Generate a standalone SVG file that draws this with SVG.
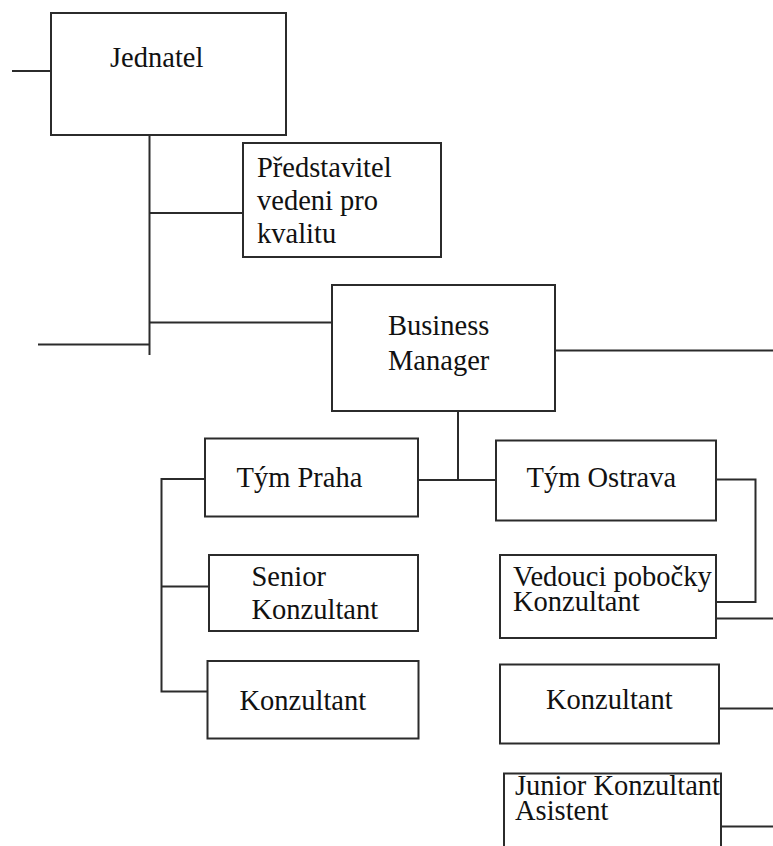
<svg xmlns="http://www.w3.org/2000/svg" width="773" height="846" viewBox="0 0 773 846">
<style>
.box{fill:#fff;stroke:#2b2b2b;stroke-width:2}
.ln{fill:none;stroke:#2b2b2b;stroke-width:2}
</style>
<rect width="773" height="846" fill="#fff"/>
<g id="connectors">
<line class="ln" x1="12" y1="71" x2="51" y2="71"/>
<line class="ln" x1="149.5" y1="133" x2="149.5" y2="355"/>
<line class="ln" x1="149.5" y1="213" x2="243" y2="213"/>
<line class="ln" x1="149.5" y1="322.5" x2="332" y2="322.5"/>
<line class="ln" x1="38" y1="344.5" x2="149.5" y2="344.5"/>
<line class="ln" x1="555" y1="350.5" x2="773" y2="350.5"/>
<line class="ln" x1="458" y1="411" x2="458" y2="480"/>
<line class="ln" x1="418" y1="480" x2="496" y2="480"/>
<polyline class="ln" points="205,479 161.5,479 161.5,691.5 208,691.5"/>
<line class="ln" x1="161.5" y1="586.5" x2="209" y2="586.5"/>
<polyline class="ln" points="716,479.5 755.5,479.5 755.5,602 716,602"/>
<line class="ln" x1="716" y1="618.5" x2="773" y2="618.5"/>
<line class="ln" x1="719" y1="708.5" x2="773" y2="708.5"/>
<line class="ln" x1="721" y1="826.5" x2="773" y2="826.5"/>
</g>
<g font-family="Liberation Serif" font-size="28.5" fill="#111">
<g id="jednatel">
<rect class="box" x="51" y="13" width="235" height="122"/>
<text x="110" y="67">Jednatel</text>
</g>
<g id="predstavitel">
<rect class="box" x="243" y="143" width="198" height="114"/>
<text x="257" y="177">Představitel</text>
<text x="257" y="210">vedeni pro</text>
<text x="257" y="243">kvalitu</text>
</g>
<g id="business-manager">
<rect class="box" x="332" y="285" width="223" height="126"/>
<text x="388" y="335">Business</text>
<text x="388" y="370">Manager</text>
</g>
<g id="tym-praha">
<rect class="box" x="205" y="438.5" width="213" height="78"/>
<text x="236.5" y="487">Tým Praha</text>
</g>
<g id="senior-konzultant">
<rect class="box" x="209" y="555" width="209" height="76"/>
<text x="251.5" y="586">Senior</text>
<text x="251.5" y="619">Konzultant</text>
</g>
<g id="konzultant-praha">
<rect class="box" x="207.5" y="661" width="211" height="77.5"/>
<text x="239.5" y="710">Konzultant</text>
</g>
<g id="tym-ostrava">
<rect class="box" x="496" y="440.5" width="220" height="80"/>
<text x="526.5" y="487">Tým Ostrava</text>
</g>
<g id="vedouci-pobocky">
<rect class="box" x="500" y="555" width="216" height="83"/>
<text x="513" y="586">Vedouci pobočky</text>
<text x="513" y="611">Konzultant</text>
</g>
<g id="konzultant-ostrava">
<rect class="box" x="500" y="664.5" width="219" height="79"/>
<text x="546" y="709">Konzultant</text>
</g>
<g id="junior-konzultant">
<rect class="box" x="504" y="773.5" width="217" height="90"/>
<text x="515" y="795">Junior Konzultant</text>
<text x="515" y="820">Asistent</text>
</g>
</g>
</svg>
